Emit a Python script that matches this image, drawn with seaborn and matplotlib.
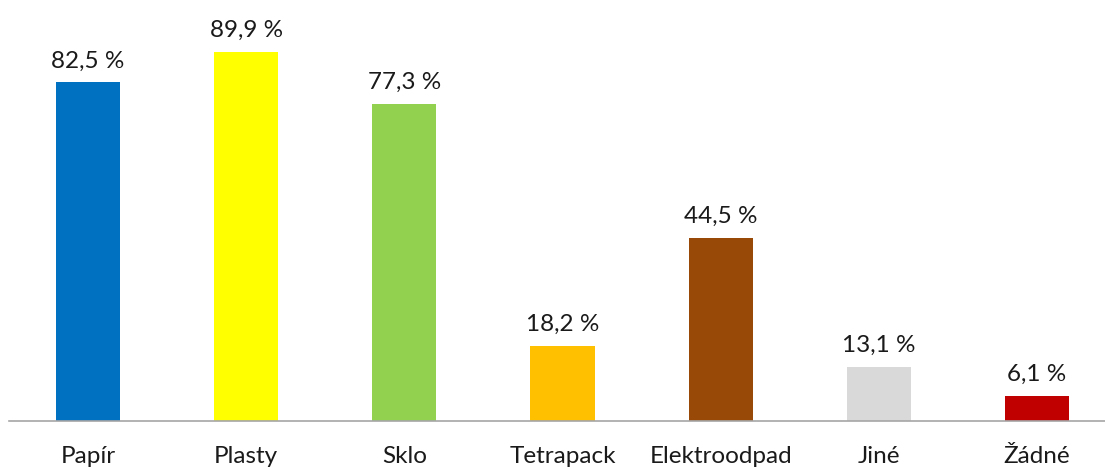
import matplotlib
matplotlib.use('Agg')
import matplotlib.pyplot as plt
import seaborn as sns
import pandas as pd

# Data
###############################################################################

categories = ['Papír', 'Plasty', 'Sklo', 'Tetrapack', 'Elektroodpad', 'Jiné', 'Žádné']
values = [82.5, 89.9, 77.3, 18.2, 44.5, 13.1, 6.1]
colors = ['#0070C0', '#FFFF00', '#92D050', '#FFC000', '#984807', '#D9D9D9', '#C00000']

df = pd.DataFrame({'kategorie': categories, 'podil': values})

# Plot
###############################################################################

sns.set_style('white')
plt.rcParams['font.family'] = ['Lato', 'DejaVu Sans']

fig = plt.figure(figsize=(11.05, 4.68), dpi=100)
ax = fig.add_axes([9 / 1105, 47 / 468, 1107 / 1105, 421 / 468])

sns.barplot(data=df, x='kategorie', y='podil', hue='kategorie',
            palette=colors, width=0.405, legend=False, ax=ax,
            saturation=1, linewidth=0)

for c in ax.containers:
    ax.bar_label(c, labels=[f'{v:.1f} %'.replace('.', ',') for v in c.datavalues],
                 padding=8, fontsize=17.5, color='#1a1a1a')

ax.set_ylim(0, 102.6)
ax.set_xlim(-0.5, 6.5)
ax.set_xlabel('')
ax.set_ylabel('')
ax.set_yticks([])
ax.tick_params(axis='x', length=0, pad=18, labelsize=17.5, labelcolor='#1a1a1a')
for s in ['top', 'right', 'left']:
    ax.spines[s].set_visible(False)
ax.spines['bottom'].set_color('#A6A6A6')
ax.spines['bottom'].set_linewidth(1.2)

fig.savefig('out.png', dpi=100)
